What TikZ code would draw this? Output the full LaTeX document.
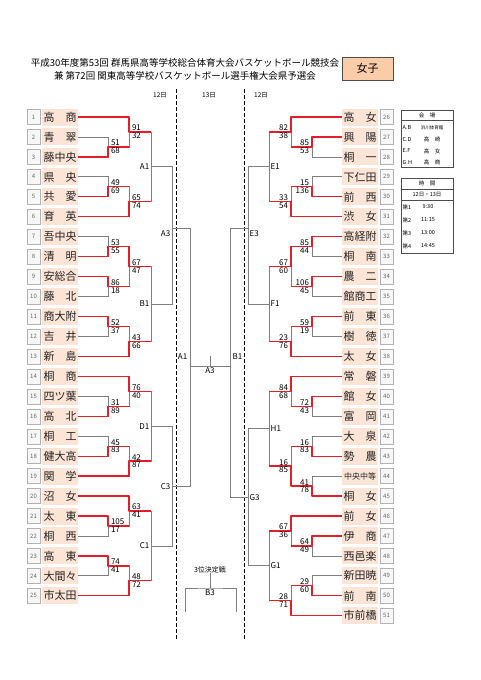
\documentclass[tikz,border=0pt]{standalone}
\usepackage{fontspec}
\setmainfont{Noto Sans CJK JP}
\usetikzlibrary{positioning}
\definecolor{peach}{RGB}{252,228,214}
\definecolor{girlbox}{RGB}{250,204,168}
\definecolor{winred}{RGB}{228,30,40}
\definecolor{losegray}{RGB}{128,128,128}
\newcommand{\ry}[1]{117+(#1-1)*19.95}

\begin{document}
\begin{tikzpicture}[
    x=1pt, y=-1pt,
    num/.style={draw=gray!60, fill=gray!6, minimum width=13pt, minimum height=15pt, inner sep=0pt, outer sep=0pt, text=gray!80!black, font=\fontsize{6}{6}\selectfont},
    team/.style={fill=peach, minimum width=36pt, minimum height=17pt, inner sep=0pt, outer sep=0pt, text=black!85, font=\fontsize{11}{11}\selectfont},
    win/.style={draw=winred, line width=1.3pt, line join=round},
    lose/.style={draw=losegray, line width=0.8pt},
    score/.style={inner sep=0.8pt, font=\fontsize{8}{8}\selectfont},
    code/.style={inner sep=1.5pt, font=\fontsize{8}{8}\selectfont},
    info/.style={inner sep=0pt, font=\fontsize{5.5}{5.5}\selectfont},
    day/.style={inner sep=0pt, font=\fontsize{6.5}{6.5}\selectfont}
    ]
    \useasboundingbox (0,0) rectangle (481,680);

    % cabecalho
    \node[align=center, font=\fontsize{9.5}{13}\selectfont] (title) at (185,69.5)
      {平成30年度第53回 群馬県高等学校総合体育大会バスケットボール競技会\\兼 第72回 関東高等学校バスケットボール選手権大会県予選会};
    \node[draw=black!70, fill=girlbox, minimum width=51pt, minimum height=23pt, font=\fontsize{11}{11}\selectfont] (girls) at (367.5,68.5) {女子};
    \node[day] (day1) at (160,95) {12日};
    \node[day] (day2) at (209,95) {13日};
    \node[day] (day3) at (261,95) {12日};
    \draw[line width=1pt, dash pattern=on 3.5pt off 2.5pt] (176,89) -- (176,640);
    \draw[line width=1pt, dash pattern=on 3.5pt off 2.5pt] (244,89) -- (244,640);

    % times
    \foreach \n/\name in {1/高　商, 2/青　翠, 3/藤中央, 4/県　央, 5/共　愛, 6/育　英, 7/吾中央, 8/清　明, 9/安総合, 10/藤　北, 11/商大附, 12/吉　井, 13/新　島, 14/桐　商, 15/四ツ葉, 16/高　北, 17/桐　工, 18/健大高, 19/関　学, 20/沼　女, 21/太　東, 22/桐　西, 23/高　東, 24/大間々, 25/市太田}
    {
      \node[num] (n\n) at (33.5,{\ry{\n}}) {\n};
      \node[team, right=2pt of n\n] (t\n) {\name};
    }
    \foreach \n/\name in {26/高　女, 27/興　陽, 28/桐　一, 29/下仁田, 30/前　西, 31/渋　女, 32/高経附, 33/桐　南, 34/農　二, 35/館商工, 36/前　東, 37/樹　徳, 38/太　女, 39/常　磐, 40/館　女, 41/富　岡, 42/大　泉, 43/勢　農, 44/{\fontsize{8}{8}\selectfont 中央中等}, 45/桐　女, 46/前　女, 47/伊　商, 48/西邑楽, 49/新田暁, 50/前　南, 51/市前橋}
    {
      \node[num] (n\n) at (386.5,{\ry{\n-25}}) {\n};
      \node[team, left=2pt of n\n] (t\n) {\name};
    }

    % pontos dos jogos
    \foreach \m/\x/\r in {m1/108/2.5, m2/129/1.75, m3/108/4.5, m4/129/5.25, A1/151/3.5,
        m5/108/7.5, m6/108/9.5, m7/129/8.5, m8/108/11.5, m9/129/12.25, B1/151/10.375, A3/172/6.6,
        m10/108/15.5, m11/129/14.75, m12/108/17.5, m13/129/18.25, D1/151/16.5,
        m14/108/21.5, m15/129/20.75, m16/108/23.5, m17/129/24.25, C1/151/22.5, C3/172/19.5,
        m18/312/2.5, m19/291/1.75, m20/312/4.5, m21/291/5.25, E1/269/3.5,
        m22/312/7.5, m23/312/9.5, m24/291/8.5, m25/312/11.5, m26/291/12.25, F1/269/10.375, E3/248/6.6,
        m27/312/15.5, m28/291/14.75, m29/312/17.5, m30/312/19.5, m31/291/18.5, H1/269/16.625,
        m32/312/22.5, m33/291/21.75, m34/312/24.5, m35/291/25.25, G1/269/23.5, G3/248/20.06}
      \coordinate (\m) at (\x,{\ry{\r}});
    \coordinate (sfL) at (190,366);
    \coordinate (sfR) at (230,366);
    \coordinate (final) at (210,366);

    % chave cinza
    \foreach \a/\b/\m in {t2/t3/m1, t1/m1/m2, t4/t5/m3, m3/t6/m4, m2/m4/A1,
        t7/t8/m5, t9/t10/m6, m5/m6/m7, t11/t12/m8, m8/t13/m9, m7/m9/B1, A1/B1/A3,
        t15/t16/m10, t14/m10/m11, t17/t18/m12, m12/t19/m13, m11/m13/D1,
        t21/t22/m14, t20/m14/m15, t23/t24/m16, m16/t25/m17, m15/m17/C1, D1/C1/C3,
        t27/t28/m18, t26/m18/m19, t29/t30/m20, m20/t31/m21, m19/m21/E1,
        t32/t33/m22, t34/t35/m23, m22/m23/m24, t36/t37/m25, m25/t38/m26, m24/m26/F1, E1/F1/E3,
        t40/t41/m27, t39/m27/m28, t42/t43/m29, t44/t45/m30, m29/m30/m31, m28/m31/H1,
        t47/t48/m32, t46/m32/m33, t49/t50/m34, m34/t51/m35, m33/m35/G1, H1/G1/G3,
        A3/C3/sfL, E3/G3/sfR}
      \draw[lose] (\a) -| (\m) (\b) -| (\m);
    \draw[lose] (sfL) -- (sfR);
    \draw[lose] (final) -- ++(0,-10);

    % vencedores em vermelho
    \foreach \w/\m/\nx in {t3/m1/m2, t1/m2/A1, t5/m3/m4, t6/m4/A1,
        t8/m5/m7, t9/m6/m7, m5/m7/B1, t11/m8/m9, t13/m9/B1,
        t16/m10/m11, t14/m11/D1, t18/m12/m13, t19/m13/D1,
        t21/m14/m15, t20/m15/C1, t23/m16/m17, t25/m17/C1,
        t27/m18/m19, t26/m19/E1, t30/m20/m21, t31/m21/E1,
        t32/m22/m24, t34/m23/m24, m22/m24/F1, t36/m25/m26, t38/m26/F1,
        t40/m27/m28, t39/m28/H1, t43/m29/m31, t45/m30/m31, m30/m31/H1,
        t47/m32/m33, t46/m33/G1, t50/m34/m35, t51/m35/G1}
      \draw[win] (\w) -| (\m) -- (\m -| \nx);

    % placares
    \foreach \m/\a/\b in {m1/51/68, m2/91/32, m3/49/69, m4/65/74, m5/53/55, m6/86/18, m7/67/47, m8/52/37, m9/43/66,
        m10/31/89, m11/76/40, m12/45/83, m13/42/87, m14/105/17, m15/63/41, m16/74/41, m17/48/72}
    {
      \node[score, anchor=south west] at ([xshift=2pt]\m) {\a};
      \node[score, anchor=north west] at ([xshift=2pt]\m) {\b};
    }
    \foreach \m/\a/\b in {m18/85/53, m19/82/38, m20/15/136, m21/33/54, m22/85/44, m23/106/45, m24/67/60, m25/59/19, m26/23/76,
        m27/72/43, m28/84/68, m29/16/83, m30/41/78, m31/16/85, m32/64/49, m33/67/36, m34/29/60, m35/28/71}
    {
      \node[score, anchor=south east] at ([xshift=-2pt]\m) {\a};
      \node[score, anchor=north east] at ([xshift=-2pt]\m) {\b};
    }

    % codigos dos jogos
    \foreach \m in {A1, B1, D1, C1, C3}
      \node[code, left] at (\m) {\m};
    \node[code, left] at ([yshift=-5pt]A3) {A3};
    \foreach \m in {E1, F1, H1, G1, G3}
      \node[code, right] at (\m) {\m};
    \node[code, right] at ([yshift=-5pt]E3) {E3};
    \node[code, anchor=east] at (189,357) {A1};
    \node[code, anchor=west] at (231,357) {B1};
    \node[code, below] at (final) {A3};

    % 3o lugar
    \node[day, font=\fontsize{7}{7}\selectfont] (thirdtitle) at (210,570) {3位決定戦};
    \coordinate (third) at (210,588);
    \coordinate (thirdL) at (185,612);
    \coordinate (thirdR) at (236,612);
    \draw[lose] (thirdL) |- (third) -| (thirdR);
    \draw[lose] (third) -- (thirdtitle.south);
    \node[code, below] at (third) {B3};

    % quadros de informacao
    \draw[black!70, line width=0.6pt] (401,110) rectangle (453,167);
    \draw[black!70, line width=0.6pt] (401,120) -- (453,120);
    \node[info] (venuehead) at (427,115) {会　場};
    \foreach \y/\c/\v in {128/A.B/{\fontsize{4.5}{4.5}\selectfont 浜川体育館}, 139.5/C.D/高　崎, 151/E.F/高　女, 162.5/G.H/高　商}
    {
      \node[info, anchor=west] at (402.5,\y) {\c};
      \node[info] at (432,\y) {\v};
    }
    \draw[black!70, line width=0.6pt] (401,178) rectangle (453,253);
    \draw[black!70, line width=0.6pt] (401,189) -- (453,189);
    \draw[black!70, line width=0.6pt] (401,200) -- (453,200);
    \node[info] (timehead) at (427,183.5) {時　間};
    \node[info] (timedays) at (427,194.5) {12日・13日};
    \foreach \y/\c/\v in {207/第1/9:30, 220/第2/11:15, 233/第3/13:00, 246/第4/14:45}
    {
      \node[info, anchor=west] at (402.5,\y) {\c};
      \node[info] at (428,\y) {\v};
    }
\end{tikzpicture}
\end{document}
